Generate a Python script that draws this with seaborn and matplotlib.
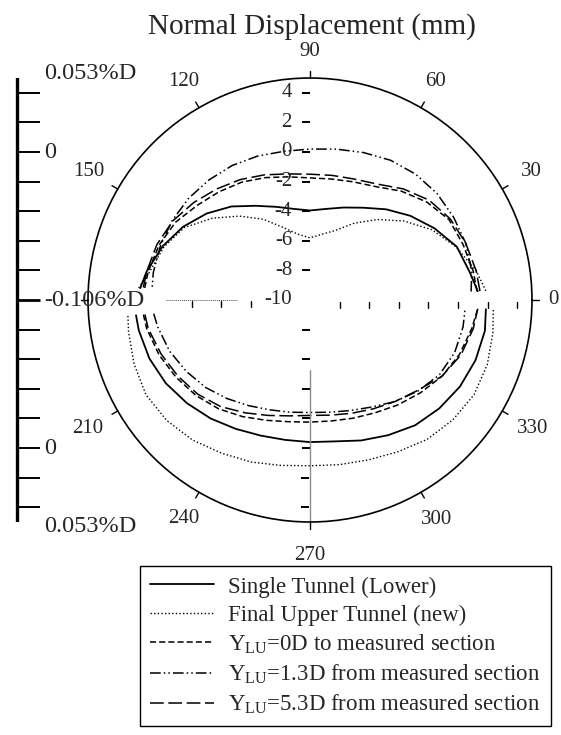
import numpy as np
import matplotlib
matplotlib.use("Agg")
import matplotlib.pyplot as plt
import matplotlib.transforms as mtransforms
import seaborn as sns

# angles (deg) where each curve was read; upper and lower halves are separate
ang_top = [3, 10, 20, 30, 40, 50, 60, 70, 80, 90, 100, 110, 120, 130, 140, 150, 160, 170, 176]
ang_bot = [185, 190, 200, 210, 220, 230, 240, 250, 260, 270, 280, 290, 300, 310, 320, 330, 340, 350, 357]

# normal displacement (mm)
single_top = [1.35, 0.95, 0.55, -0.3, -1.15, -2.0, -2.8, -3.35, -3.75, -3.95,
              -3.75, -3.3, -2.65, -1.75, -0.9, -0.1, 0.6, 1.2, 1.5]
single_bot = [1.8, 1.75, 1.55, 1.25, 0.85, 0.45, 0.05, -0.25, -0.4, -0.4,
              -0.3, 0.1, 0.55, 1.05, 1.4, 1.7, 1.9, 2.0, 1.9]
final_top = [1.9, 1.4, 0.5, -0.5, -1.7, -2.9, -4.0, -5.0, -5.5, -5.8,
             -5.5, -4.8, -3.7, -2.6, -1.4, -0.2, 0.5, 1.0, 1.6]
final_bot = [2.35, 2.45, 2.65, 2.8, 2.65, 2.35, 1.95, 1.65, 1.35, 1.2,
             1.3, 1.5, 1.85, 2.3, 2.6, 2.8, 2.75, 2.55, 2.4]
y0_top = [1.3, 1.2, 1.0, 0.85, 0.3, -0.4, -1.15, -1.5, -1.7, -1.75,
          -1.55, -1.2, -0.8, -0.45, -0.05, 0.5, 0.85, 1.1, 1.2]
y0_bot = [1.3, 1.2, 0.85, 0.45, 0.05, -0.4, -0.9, -1.35, -1.65, -1.75,
          -1.7, -1.5, -1.2, -0.75, -0.25, 0.3, 0.75, 1.1, 1.35]
y13_top = [0.9, 1.1, 1.2, 1.2, 1.2, 1.1, 0.9, 0.6, 0.35, 0.2,
           0.2, 0.35, 0.5, 0.6, 0.7, 0.75, 0.75, 0.75, 0.7]
y13_bot = [0.6, 0.45, 0.1, -0.35, -0.8, -1.3, -1.75, -2.1, -2.3, -2.4,
           -2.3, -2.05, -1.65, -1.05, -0.45, 0.1, 0.4, 0.5, 0.5]
y53_top = [1.5, 1.4, 1.2, 0.95, 0.5, -0.2, -0.95, -1.3, -1.45, -1.5,
           -1.35, -1.0, -0.6, -0.2, 0.25, 0.7, 1.0, 1.2, 1.3]
y53_bot = [1.2, 1.1, 0.7, 0.3, -0.1, -0.6, -1.2, -1.7, -2.05, -2.2,
           -2.1, -1.85, -1.5, -1.05, -0.5, 0.3, 0.85, 1.2, 1.35]

labels = ["Single Tunnel (Lower)",
          "Final Upper Tunnel (new)",
          r"Y$_{\mathregular{LU}}$=0D to measured section",
          r"Y$_{\mathregular{LU}}$=1.3D from measured section",
          r"Y$_{\mathregular{LU}}$=5.3D from measured section"]
styles = ["-", (0, (1, 1.6)), (0, (4, 2)), (0, (7, 2, 1, 2, 1, 2)), (0, (9, 3))]
widths = [1.3, 1.0, 1.1, 1.1, 1.1]
series = [(single_top, single_bot), (final_top, final_bot), (y0_top, y0_bot),
          (y13_top, y13_bot), (y53_top, y53_bot)]

r_ticks = [-8, -6, -4, -2, 0, 2, 4]
theta_ticks = [0, 30, 60, 90, 120, 150, 180, 210, 240, 270, 300, 330]
# label gap outside the circle (px); 180 has no label
theta_gap = {0: 21, 30: 34, 60: 30, 90: 26, 120: 30, 150: 34,
             210: 35, 240: 30, 270: 33, 300: 31, 330: 35}

sns.set_theme(style="white")
plt.rcParams["font.family"] = ["Liberation Serif", "DejaVu Serif"]
plt.rcParams["mathtext.default"] = "regular"

fig = plt.figure(figsize=(5.61, 7.35), dpi=100)
ax = fig.add_axes([88 / 561, 213 / 735, 444 / 561, 444 / 735], projection="polar")

handles = []
for (top, bot), lab, ls, lw in zip(series, labels, styles, widths):
    sns.lineplot(x=np.deg2rad(ang_top), y=top, ax=ax, color="black", lw=lw,
                 linestyle=ls, sort=False)
    sns.lineplot(x=np.deg2rad(ang_bot), y=bot, ax=ax, color="black", lw=lw,
                 linestyle=ls, sort=False)
    handles.append(plt.Line2D([], [], color="black", lw=lw, linestyle=ls))

ax.set_xticks([])
ax.set_yticks([])
ax.set_ylim(-10, 5)
ax.grid(False)
ax.set_xlabel("")
ax.set_ylabel("")
ax.spines["polar"].set_color("black")
ax.spines["polar"].set_linewidth(1.2)


def shift(dx, dy):
    return mtransforms.offset_copy(ax.transData, fig=fig, x=dx, y=dy, units="dots")


# angle ticks and labels
for t in theta_ticks:
    th = np.deg2rad(t)
    ax.plot([th, th], [5, 5.45], color="black", lw=1, clip_on=False)
    if t in theta_gap:
        g = theta_gap[t]
        ax.text(th, 5, str(t), transform=shift(g * np.cos(th), g * np.sin(th)),
                ha="center", va="center", fontsize=15)

# radial scale decorations
n = len(r_ticks)
ax.plot([np.pi / 2] * n, r_ticks, ls="none", marker="_", ms=5.5, mew=1.2,
        color="black", transform=shift(-4.5, 0))
for r in r_ticks:
    ax.text(np.pi / 2, r, str(r), transform=shift(-18, 0), ha="right",
            va="center", fontsize=15)
ax.text(np.pi / 2, -10, "-10", transform=shift(-18, 0), ha="right",
        va="center", fontsize=15)
ax.plot([1.5 * np.pi] * n, r_ticks, ls="none", marker="_", ms=5.5, mew=1.2,
        color="black", transform=shift(-4.5, 0))
ax.plot([1.5 * np.pi] * 2, [-5.3, 5], color="0.55", lw=1)
ax.plot([0] * n, r_ticks, ls="none", marker="|", ms=5, mew=1,
        color="black", transform=shift(0, -5))
ax.plot([np.pi] * 3, [-6, -4, -2], ls="none", marker="|", ms=5, mew=1,
        color="black", transform=shift(0, -4))
ax.plot([np.pi] * 2, [-5.1, -0.2], color="0.3", lw=0.7, linestyle=(0, (1, 1)))

# left diameter scale bar
bar = fig.add_axes([0, 213 / 735, 0.2, 444 / 735])
bar.set_xlim(0, 112.2)
bar.set_ylim(-15, 15)
bar.axis("off")
bar.plot([17, 17], [-15.3, 15.3], color="black", lw=2.4, solid_capstyle="butt")
for y in list(range(-14, 15, 2)) + [-15.3, 15.3]:
    bar.plot([17, 40], [y, y], color="black", lw=2.0 if y == 0 else 1.4,
             solid_capstyle="butt")
for y, s in [(15.3, "0.053%D"), (10, "0"), (0, "-0.106%D"), (-10, "0"),
             (-15.3, "0.053%D")]:
    bar.text(44, y, s, ha="left", va="center", fontsize=17.5)

fig.text(312 / 561, 1 - 27 / 735, "Normal Displacement (mm)", ha="center",
         va="center", fontsize=21)

leg = fig.legend(handles, labels, loc="upper left",
                 bbox_to_anchor=(140 / 561, 1 - 566 / 735), fontsize=16.5,
                 frameon=True, fancybox=False, edgecolor="black", framealpha=1,
                 handlelength=2.8, handletextpad=0.6, labelspacing=0.3,
                 borderpad=0.45, borderaxespad=0)
leg.get_frame().set_linewidth(1)

fig.savefig("out.png", dpi=100)
